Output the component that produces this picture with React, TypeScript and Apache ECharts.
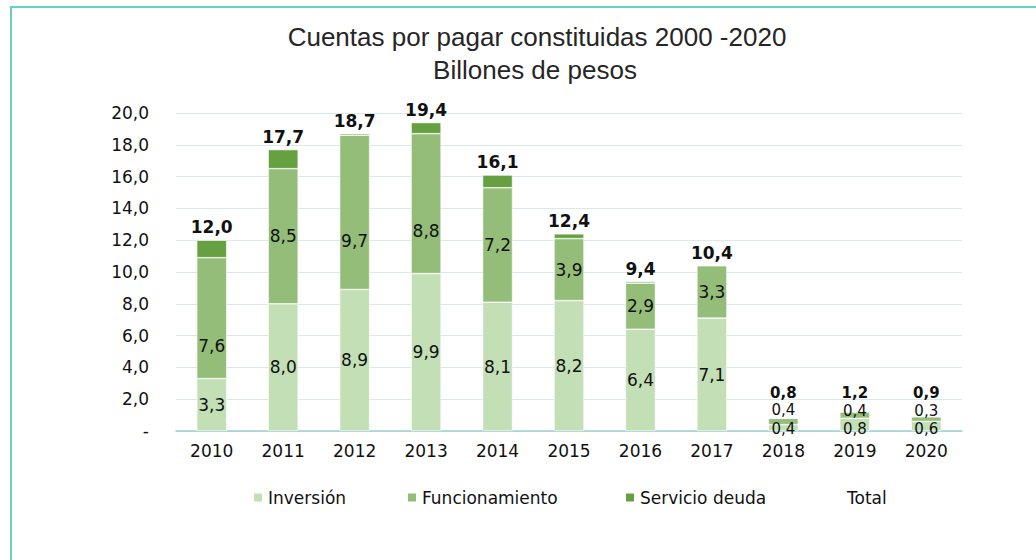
import React, { useEffect, useRef } from "react";
import * as echarts from "echarts";

const years = ["2010", "2011", "2012", "2013", "2014", "2015", "2016", "2017", "2018", "2019", "2020"];
const inversion = [3.3, 8.0, 8.9, 9.9, 8.1, 8.2, 6.4, 7.1, 0.4, 0.8, 0.6];
const funcionamiento = [7.6, 8.5, 9.7, 8.8, 7.2, 3.9, 2.9, 3.3, 0.4, 0.4, 0.3];
const servicioDeuda = [1.1, 1.2, 0.1, 0.7, 0.8, 0.3, 0.1, 0.0, 0.0, 0.0, 0.0];
const total = [12.0, 17.7, 18.7, 19.4, 16.1, 12.4, 9.4, 10.4, 0.8, 1.2, 0.9];
const titleLines = ["Cuentas por pagar constituidas 2000 -2020", "Billones de pesos"];

// label shifts in px and sizes (style only), as placed in the original
const invLabelShift = [0, 0, 0, 0, 0, 0, 0, 0, 1, 4, 3];
const funLabelShift = [28, 0, 29, 27, 0, 0, 0, 0, -11, -4, -8];
const totLabelShift = [0, 0, 0, 0, 0, 0, 0, 0, -12, -6, -11];
const labelSize = [17, 17, 17, 17, 17, 17, 17, 17, 15, 15, 15];

const FONT = "DejaVu Sans";
const fmt = (v: number) => v.toFixed(1).replace(".", ",");

export default function App() {
  const ref = useRef<HTMLDivElement>(null);
  useEffect(() => {
    if (!ref.current) return;
    const chart = echarts.init(ref.current, undefined, { renderer: "svg" });
    const segLabel = {
      show: true,
      position: "inside",
      color: "#111",
      fontFamily: FONT,
      fontSize: 17,
      lineHeight: 13,
      formatter: (p: any) => (p.value === 0 ? "" : fmt(p.value)),
    };
    const legendBase = {
      top: 489,
      padding: 0,
      itemWidth: 10,
      itemHeight: 10,
      icon: "rect",
      textStyle: { fontFamily: FONT, fontSize: 17, color: "#111" },
    };
    const item = (shift: number[]) => (v: number, i: number) => ({
      value: v,
      label: { offset: [0, shift[i]], fontSize: labelSize[i] },
    });
    chart.setOption({
      animation: false,
      textStyle: { fontFamily: FONT },
      graphic: [
        {
          type: "rect",
          shape: { x: 11, y: 7, width: 1200, height: 800 },
          style: { fill: "none", stroke: "#66d0c2", lineWidth: 2 },
          silent: true,
        },
        {
          type: "text",
          x: 537,
          y: 37,
          style: {
            text: titleLines[0],
            fontFamily: "Liberation Sans",
            fontSize: 26,
            fill: "#262626",
            textAlign: "center",
            textVerticalAlign: "middle",
          },
        },
        {
          type: "text",
          x: 535,
          y: 70,
          style: {
            text: titleLines[1],
            fontFamily: "Liberation Sans",
            fontSize: 26,
            fill: "#262626",
            textAlign: "center",
            textVerticalAlign: "middle",
          },
        },
      ],
      legend: [
        { ...legendBase, left: 252, data: ["Inversión"] },
        { ...legendBase, left: 406, data: ["Funcionamiento"] },
        { ...legendBase, left: 624, data: ["Servicio deuda"] },
        { ...legendBase, left: 832, data: [{ name: "Total", icon: "none" }] },
      ],
      grid: { left: 176, right: 74, top: 113, bottom: 129 },
      xAxis: {
        type: "category",
        data: years,
        axisTick: { show: false },
        axisLine: { lineStyle: { color: "#9fcfcf", width: 1.5 } },
        axisLabel: { color: "#111", fontFamily: FONT, fontSize: 17, margin: 11 },
      },
      yAxis: {
        type: "value",
        min: 0,
        max: 20,
        interval: 2,
        axisLine: { show: false },
        axisTick: { show: false },
        splitLine: { lineStyle: { color: "#d6eaea", width: 1 } },
        axisLabel: {
          color: "#111",
          fontFamily: FONT,
          fontSize: 17,
          margin: 27,
          formatter: (v: number) => (v === 0 ? "-" : fmt(v)),
        },
      },
      series: [
        {
          name: "Inversión",
          type: "bar",
          stack: "a",
          barWidth: 30,
          data: inversion.map(item(invLabelShift)),
          itemStyle: { color: "#c3dfb6", borderColor: "#ffffff", borderWidth: 0.6 },
          label: segLabel,
        },
        {
          name: "Funcionamiento",
          type: "bar",
          stack: "a",
          barWidth: 30,
          data: funcionamiento.map(item(funLabelShift)),
          itemStyle: { color: "#93bd78", borderColor: "#ffffff", borderWidth: 0.6 },
          label: segLabel,
        },
        {
          name: "Servicio deuda",
          type: "bar",
          stack: "a",
          barWidth: 30,
          data: servicioDeuda,
          itemStyle: { color: "#66a040", borderColor: "#ffffff", borderWidth: 0.6 },
        },
        {
          name: "Total",
          type: "bar",
          barWidth: 30,
          barGap: "-100%",
          z: 1,
          data: total.map(item(totLabelShift)),
          itemStyle: { color: "rgba(0,0,0,0)" },
          label: {
            show: true,
            position: "top",
            distance: 6,
            color: "#111",
            fontFamily: FONT,
            fontSize: 17,
            lineHeight: 14,
            fontWeight: "bold",
            formatter: (p: any) => fmt(p.value),
          },
        },
      ],
    });
    return () => chart.dispose();
  }, []);
  return <div ref={ref} style={{ position: "absolute", left: 0, top: 0, width: 1036, height: 560 }} />;
}
